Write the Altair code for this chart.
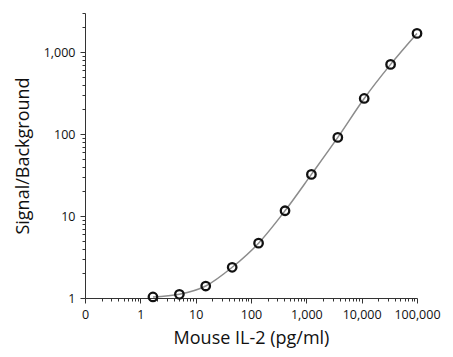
import altair as alt
import pandas as pd

conc = [1.69, 5.08, 15.2, 45.7, 137, 412, 1235, 3704, 11111, 33333, 100000]
ratio = [1.03, 1.11, 1.40, 2.37, 4.67, 11.6, 32.2, 91, 272, 708, 1690]

x_major = [0.1, 1, 10, 100, 1000, 10000, 100000]
y_major = [1, 10, 100, 1000]

x_ticks = [m * 10 ** k for k in range(-1, 5) for m in range(1, 10)] + [100000]
y_ticks = [m * 10 ** k for k in range(0, 4) for m in range(1, 10) if m * 10 ** k <= 3000]

df = pd.DataFrame({"conc": conc, "ratio": ratio})

FONT = "Open Sans"
TXT = "#111111"
is_major = "abs(log(datum.value)/LN10 - round(log(datum.value)/LN10)) < 0.001"

x_axis = alt.Axis(
    values=x_ticks,
    labelExpr="(" + is_major + ") ? (datum.value < 0.5 ? '0' : format(datum.value, ',')) : ''",
    title="Mouse IL-2 (pg/ml)",
    grid=False,
    domainColor="#333333",
    tickColor="#333333",
    tickSize={"condition": {"test": is_major, "value": 5}, "value": 3},
    labelFont=FONT,
    labelFontSize=12.5,
    labelColor=TXT,
    labelPadding=5,
    labelOverlap=False,
    labelFlush=False,
    titleFont=FONT,
    titleFontSize=18,
    titleFontWeight="normal",
    titleColor=TXT,
    titlePadding=9,
)

y_axis = alt.Axis(
    values=y_ticks,
    labelExpr="(" + is_major + ") ? format(datum.value, ',') : ''",
    title="Signal/Background",
    grid=False,
    domainColor="#333333",
    tickColor="#333333",
    tickSize={"condition": {"test": is_major, "value": 5}, "value": 3},
    labelFont=FONT,
    labelFontSize=12.5,
    labelColor=TXT,
    labelPadding=5,
    labelOverlap=False,
    labelFlush=False,
    titleFont=FONT,
    titleFontSize=18,
    titleFontWeight="normal",
    titleColor=TXT,
    titlePadding=11,
)

xs = alt.Scale(type="log", domain=[0.1, 100000], nice=False)
ys = alt.Scale(type="log", domain=[1, 3000], nice=False)

base = alt.Chart(df)

line = base.mark_line(color="#8c8c8c", strokeWidth=1.5, interpolate="monotone").encode(
    x=alt.X("conc:Q", scale=xs, axis=x_axis),
    y=alt.Y("ratio:Q", scale=ys, axis=y_axis),
)

points = base.mark_point(shape="circle", size=72, stroke="#111111", strokeWidth=2.3, filled=False, opacity=1).encode(
    x=alt.X("conc:Q", scale=xs),
    y=alt.Y("ratio:Q", scale=ys),
)

chart = (line + points).properties(
    width=332,
    height=285,
    autosize=alt.AutoSizeParams(type="none"),
    padding={"left": 85, "top": 13, "right": 36, "bottom": 59},
    background="white",
).configure_view(stroke=None)

chart.save("out.html", embed_options={"renderer": "svg", "actions": False})
